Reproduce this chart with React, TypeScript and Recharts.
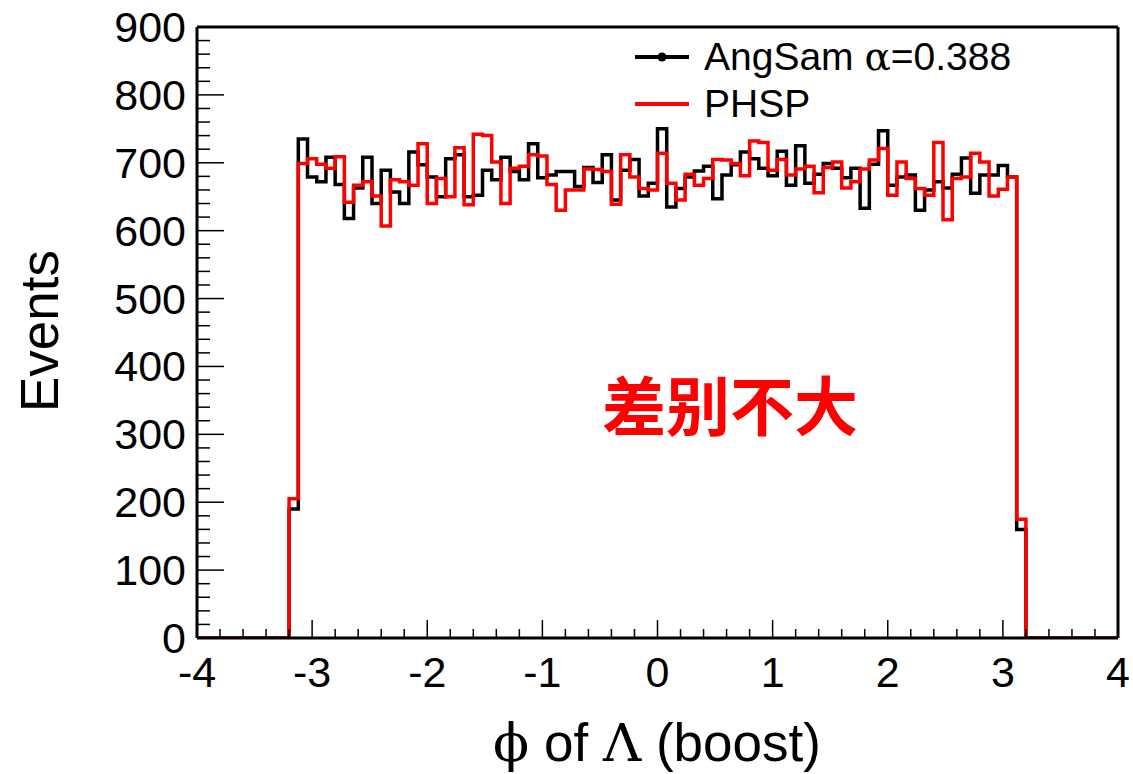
import React from 'react';
import { ComposedChart, Line, XAxis, YAxis, ReferenceLine, Legend } from 'recharts';

// ---- data ----
const binLow = -3.2;
const binWidth = 0.08;
const angSam = [
  190, 735, 679, 672, 708, 668, 618, 663, 708, 640,
  689, 657, 640, 716, 697, 679, 650, 706, 712, 650,
  652, 689, 675, 708, 687, 675, 728, 678, 682, 687,
  687, 665, 693, 671, 712, 645, 689, 705, 651, 670,
  750, 635, 662, 679, 688, 695, 647, 682, 697, 716,
  706, 692, 681, 717, 667, 725, 670, 683, 699, 692,
  678, 692, 633, 698, 747, 667, 679, 682, 630, 660,
  672, 663, 683, 707, 655, 682, 682, 696, 679, 160,
];
const phsp = [
  205, 699, 706, 698, 692, 709, 642, 667, 672, 651,
  607, 675, 672, 667, 728, 640, 677, 650, 722, 638,
  742, 740, 701, 640, 692, 695, 712, 710, 668, 630,
  660, 660, 691, 690, 687, 639, 712, 679, 662, 660,
  714, 670, 645, 683, 667, 677, 705, 704, 699, 681,
  732, 730, 689, 705, 682, 691, 695, 656, 693, 701,
  663, 672, 691, 704, 721, 652, 701, 677, 662, 652,
  730, 616, 677, 679, 714, 701, 651, 661, 679, 175,
];
const xMajorTicks = [-4, -3, -2, -1, 0, 1, 2, 3, 4];
const yMajorTicks = [0, 100, 200, 300, 400, 500, 600, 700, 800, 900];
const xMinorDivisions = 5;
const yMinorDivisions = 5;
const seriesNames = { angSam: 'AngSam α=0.388', phsp: 'PHSP' };
const xTitle = 'ϕ of Λ (boost)';
const yTitle = 'Events';
const annotation = '差别不大';

// ---- derived tables ----
const buildTicks = (majors: number[], divs: number) => {
  const out: number[] = [];
  for (let i = 0; i < majors.length - 1; i++) {
    const step = (majors[i + 1] - majors[i]) / divs;
    for (let k = 0; k < divs; k++) out.push(Math.round((majors[i] + k * step) * 1000) / 1000);
  }
  out.push(majors[majors.length - 1]);
  return out;
};
const xTicks = buildTicks(xMajorTicks, xMinorDivisions);
const yTicks = buildTicks(yMajorTicks, yMinorDivisions);

const data: { x: number; angSam: number; phsp: number }[] = [{ x: xMajorTicks[0], angSam: 0, phsp: 0 }];
angSam.forEach((v, i) => {
  data.push({ x: Math.round((binLow + i * binWidth) * 1000) / 1000, angSam: v, phsp: phsp[i] });
});
data.push({ x: Math.round((binLow + angSam.length * binWidth) * 1000) / 1000, angSam: 0, phsp: 0 });
data.push({ x: xMajorTicks[xMajorTicks.length - 1], angSam: 0, phsp: 0 });

// ---- layout ----
const W = 1133;
const H = 774;
const PLOT = { left: 197, right: 1118, top: 27, bottom: 638 };
const AXIS_SIZE = 1;
const FONT = '"Liberation Sans", Arial, Helvetica, sans-serif';
const SERIF = '"DejaVu Serif", "Liberation Serif", serif';
const TICK_FONT = 43;

const isMajor = (v: number, majors: number[]) => majors.some((m) => Math.abs(m - v) < 1e-6);

const XTick = (props: any) => {
  const { x, payload } = props;
  const v = payload.value;
  const major = isMajor(v, xMajorTicks);
  const len = major ? 18 : 9;
  return (
    <g>
      <line x1={x} x2={x} y1={PLOT.bottom} y2={PLOT.bottom - len} stroke="#000" strokeWidth={1.5} />
      {major && (
        <text x={x} y={PLOT.bottom + 49} textAnchor="middle" fontSize={TICK_FONT} fontFamily={FONT} fill="#000">
          {String(v)}
        </text>
      )}
    </g>
  );
};

const YTick = (props: any) => {
  const { y, payload } = props;
  const v = payload.value;
  const major = isMajor(v, yMajorTicks);
  const len = major ? 27 : 13;
  return (
    <g>
      <line x1={PLOT.left} x2={PLOT.left + len} y1={y} y2={y} stroke="#000" strokeWidth={1.5} />
      {major && (
        <text x={PLOT.left - 11} y={y} textAnchor="end" dominantBaseline="central" fontSize={TICK_FONT} fontFamily={FONT} fill="#000">
          {String(v)}
        </text>
      )}
    </g>
  );
};

const withGreek = (s: string) =>
  s.split(/([α-ωΑ-Ωϕ])/).map((part, i) =>
    /^[α-ωΑ-Ωϕ]$/.test(part) ? (
      <span key={i} style={{ fontFamily: SERIF }}>{part}</span>
    ) : (
      <span key={i}>{part}</span>
    )
  );

const renderLegend = (props: any) => {
  const { payload } = props;
  return (
    <div style={{ fontFamily: FONT, fontSize: 39, color: '#000' }}>
      {(payload || []).map((entry: any, i: number) => (
        <div key={i} style={{ display: 'flex', alignItems: 'center', height: 47 }}>
          <svg width={58} height={20} style={{ flex: 'none' }}>
            <line x1={2} x2={56} y1={10} y2={10} stroke={entry.color} strokeWidth={4} />
            {entry.dataKey === 'angSam' && <circle cx={29} cy={10} r={4.5} fill={entry.color} />}
          </svg>
          <span style={{ marginLeft: 13, whiteSpace: 'nowrap', lineHeight: 1 }}>{withGreek(String(entry.value))}</span>
        </div>
      ))}
    </div>
  );
};

export default function App() {
  return (
    <div style={{ position: 'absolute', left: 0, top: 0, width: W, height: H, background: '#fff', overflow: 'hidden' }}>
      <ComposedChart
        width={W}
        height={H}
        data={data}
        margin={{ top: PLOT.top, right: W - PLOT.right, bottom: H - PLOT.bottom - AXIS_SIZE, left: PLOT.left - AXIS_SIZE }}
      >
        <XAxis
          dataKey="x"
          type="number"
          domain={[xMajorTicks[0], xMajorTicks[xMajorTicks.length - 1]]}
          ticks={xTicks}
          interval={0}
          height={AXIS_SIZE}
          tick={<XTick />}
          tickLine={false}
          axisLine={{ stroke: '#000', strokeWidth: 3 }}
          allowDataOverflow
        />
        <YAxis
          type="number"
          domain={[yMajorTicks[0], yMajorTicks[yMajorTicks.length - 1]]}
          ticks={yTicks}
          interval={0}
          width={AXIS_SIZE}
          tick={<YTick />}
          tickLine={false}
          axisLine={{ stroke: '#000', strokeWidth: 3 }}
          allowDataOverflow
        />
        <ReferenceLine y={yMajorTicks[yMajorTicks.length - 1]} stroke="#000" strokeWidth={3} />
        <ReferenceLine x={xMajorTicks[xMajorTicks.length - 1]} stroke="#000" strokeWidth={3} />
        <Legend
          layout="vertical"
          verticalAlign="middle"
          align="center"
          content={renderLegend}
          wrapperStyle={{ left: 633, top: 33, width: 460, height: 96 }}
        />
        <Line
          type="stepAfter"
          dataKey="angSam"
          name={seriesNames.angSam}
          stroke="#000"
          strokeWidth={3.5}
          dot={false}
          activeDot={false}
          isAnimationActive={false}
        />
        <Line
          type="stepAfter"
          dataKey="phsp"
          name={seriesNames.phsp}
          stroke="#ff0000"
          strokeWidth={3.5}
          dot={false}
          activeDot={false}
          isAnimationActive={false}
        />
      </ComposedChart>
      <div
        style={{
          position: 'absolute', left: 39, top: 331, transform: 'translate(-50%, -50%) rotate(-90deg)',
          fontFamily: FONT, fontSize: 53, whiteSpace: 'nowrap', lineHeight: 1, color: '#000',
        }}
      >
        {yTitle}
      </div>
      <div
        style={{
          position: 'absolute', left: 657, top: 742, transform: 'translate(-50%, -50%)',
          fontFamily: FONT, fontSize: 53, whiteSpace: 'nowrap', lineHeight: 1, color: '#000',
        }}
      >
        {withGreek(xTitle)}
      </div>
      <div
        style={{
          position: 'absolute', left: 730, top: 402, transform: 'translate(-50%, -50%)',
          fontFamily: '"Noto Sans CJK SC", sans-serif', fontWeight: 700, fontSize: 64, whiteSpace: 'nowrap',
          lineHeight: 1, color: '#ff0000',
        }}
      >
        {annotation}
      </div>
    </div>
  );
}
